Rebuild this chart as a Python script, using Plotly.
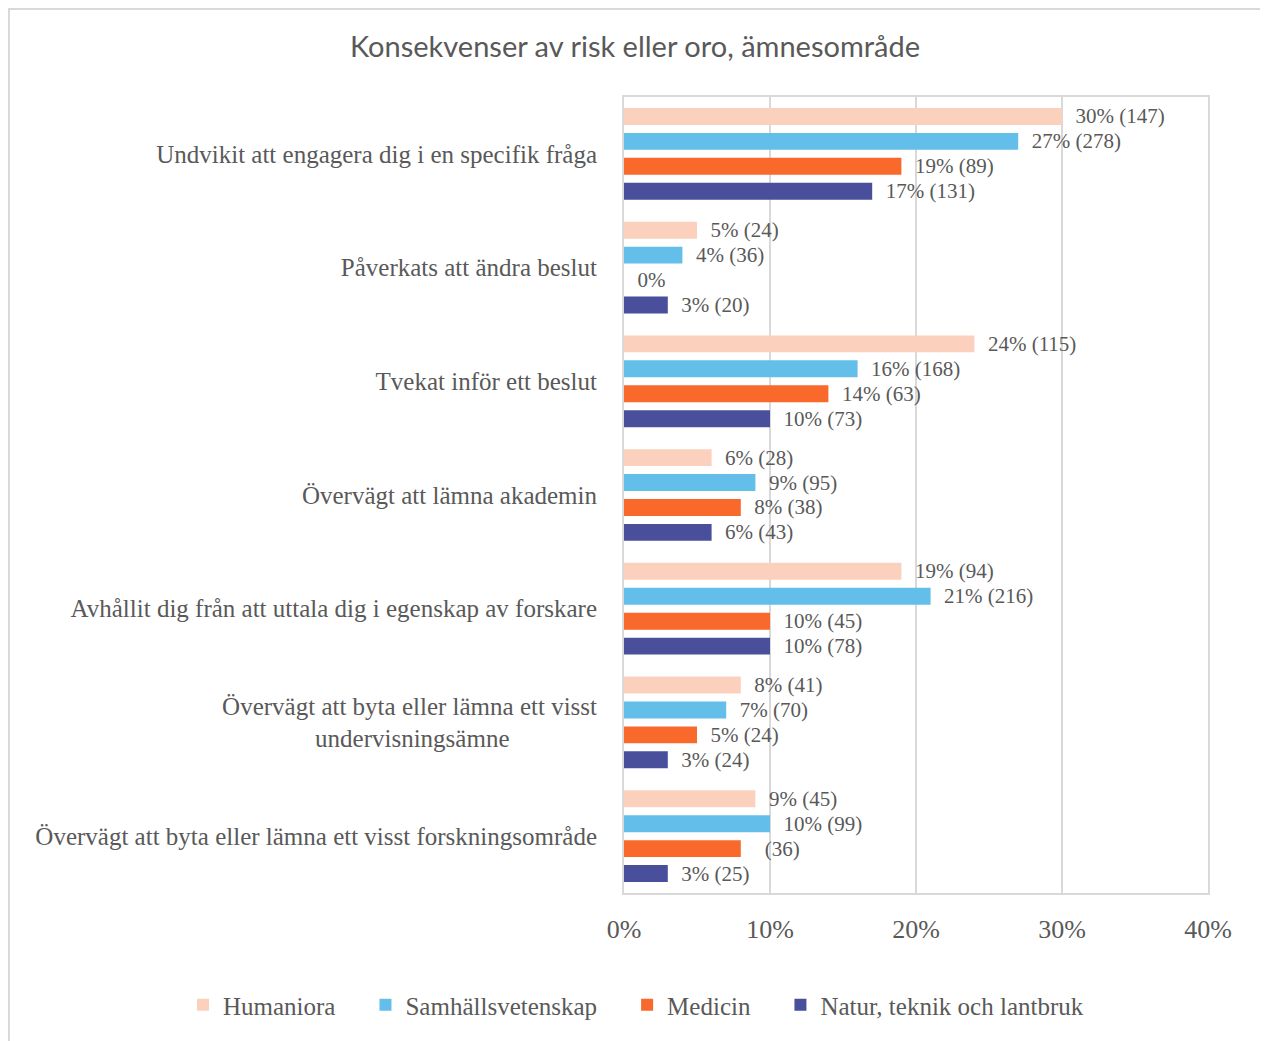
import plotly.graph_objects as go

categories = [
    "Undvikit att engagera dig i en specifik fråga",
    "Påverkats att ändra beslut",
    "Tvekat inför ett beslut",
    "Övervägt att lämna akademin",
    "Avhållit dig från att uttala dig i egenskap av forskare",
    "Övervägt att byta eller lämna ett visst<br>undervisningsämne" + "\u00a0" * 14,
    "Övervägt att byta eller lämna ett visst forskningsområde",
]

humaniora = [30, 5, 24, 6, 19, 8, 9]
humaniora_n = [147, 24, 115, 28, 94, 41, 45]
samhall = [27, 4, 16, 9, 21, 7, 10]
samhall_n = [278, 36, 168, 95, 216, 70, 99]
medicin = [19, 0, 14, 8, 10, 5, 8]
medicin_text = ["19% (89)", "0%", "14% (63)", "8% (38)", "10% (45)", "5% (24)", "\u00a0\u00a0(36)"]
natur = [17, 3, 10, 6, 10, 3, 3]
natur_n = [131, 20, 73, 43, 78, 24, 25]


def labels(vals, ns):
    return [f"{v}% ({n})" for v, n in zip(vals, ns)]


gap = "\u00a0" * 4
pad = "\u00a0" * 2
series = [
    ("Humaniora" + gap, humaniora, labels(humaniora, humaniora_n), "#FBD0BD"),
    ("Samhällsvetenskap" + gap, samhall, labels(samhall, samhall_n), "#64BEEA"),
    ("Medicin" + gap, medicin, medicin_text, "#F8692B"),
    ("Natur, teknik och lantbruk", natur, labels(natur, natur_n), "#4A4F9B"),
]

fig = go.Figure()
for name, vals, txt, color in series:
    fig.add_trace(
        go.Bar(
            y=categories,
            x=vals,
            name=name,
            orientation="h",
            marker=dict(color=color, line=dict(width=0)),
            text=[pad + t for t in txt],
            textposition="outside",
            constraintext="none",
            cliponaxis=False,
            textfont=dict(family="Liberation Serif", size=21, color="#595959"),
        )
    )

# the page puts the figure 8px in from the top-left corner
L, T, W, H = 616, 89, 584, 796

fig.update_layout(
    template="none",
    width=1268,
    height=1041,
    margin=dict(l=L, r=1268 - L - W, t=T, b=1041 - T - H, pad=0),
    paper_bgcolor="white",
    plot_bgcolor="white",
    barmode="group",
    bargap=0.123,
    bargroupgap=0.32,
    font=dict(family="Liberation Serif", size=22, color="#595959"),
    title=dict(
        text="Konsekvenser av risk eller oro, ämnesområde",
        x=627 / 1268,
        xref="container",
        xanchor="center",
        y=1 - 39 / 1041,
        yref="container",
        yanchor="middle",
        font=dict(family="Lato", size=29, color="#595959"),
    ),
    legend=dict(
        orientation="h",
        xref="paper",
        yref="paper",
        x=(175 - L) / W,
        xanchor="left",
        y=(T + H - 997) / H,
        yanchor="middle",
        font=dict(family="Liberation Serif", size=25, color="#595959"),
        traceorder="normal",
    ),
    showlegend=True,
    shapes=[
        dict(
            type="rect",
            xref="paper",
            yref="paper",
            x0=(1 - L) / W,
            x1=(1253 - L) / W,
            y0=-(1070 - T - H) / H,
            y1=1 + (T - 1) / H,
            line=dict(color="#D9D9D9", width=2),
            layer="below",
        )
    ],
)

fig.update_xaxes(
    range=[0, 40],
    dtick=10,
    ticksuffix="%",
    showgrid=True,
    gridcolor="#D9D9D9",
    gridwidth=1.5,
    zeroline=False,
    showline=True,
    linecolor="#D9D9D9",
    linewidth=2,
    mirror=True,
    ticks="",
    ticklabelstandoff=12,
    tickfont=dict(family="Liberation Serif", size=26, color="#595959"),
)

fig.update_yaxes(
    categoryorder="array",
    categoryarray=categories,
    autorange="reversed",
    showgrid=False,
    zeroline=False,
    showline=True,
    linecolor="#D9D9D9",
    linewidth=2,
    mirror=True,
    ticks="",
    ticklabelstandoff=20,
    tickfont=dict(family="Liberation Serif", size=25, color="#595959"),
)

fig.write_html("out.html")
